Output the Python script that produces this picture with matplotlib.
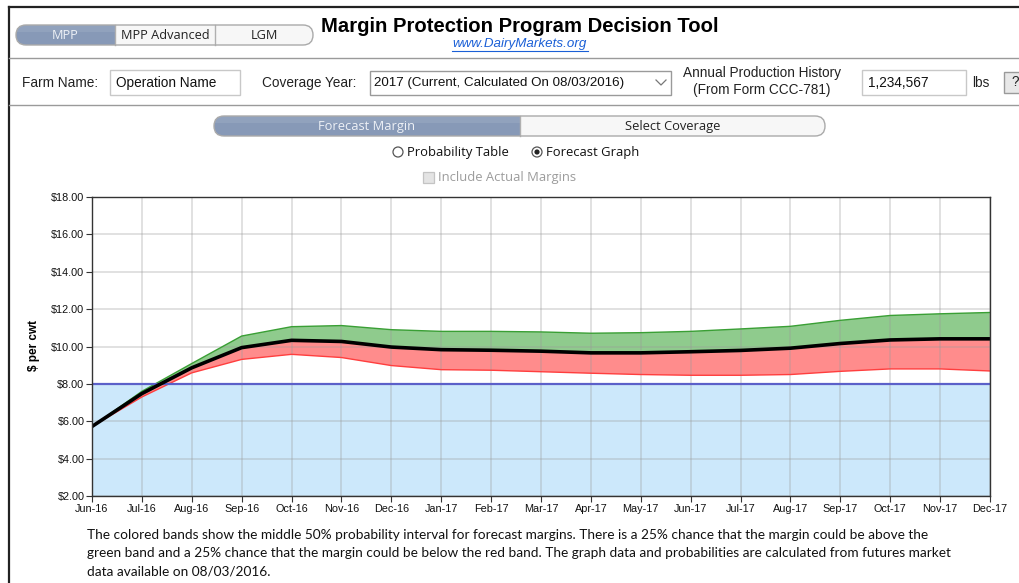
import matplotlib
matplotlib.use("Agg")
import matplotlib.pyplot as plt
from matplotlib.patches import FancyBboxPatch, Rectangle, Circle
from matplotlib.ticker import FuncFormatter
import numpy as np

# ---------------- data ----------------
months = ['Jun-16', 'Jul-16', 'Aug-16', 'Sep-16', 'Oct-16', 'Nov-16', 'Dec-16',
          'Jan-17', 'Feb-17', 'Mar-17', 'Apr-17', 'May-17', 'Jun-17', 'Jul-17',
          'Aug-17', 'Sep-17', 'Oct-17', 'Nov-17', 'Dec-17']
upper = [5.72, 7.60, 9.09, 10.56, 11.06, 11.12, 10.90, 10.81, 10.81, 10.78,
         10.71, 10.74, 10.81, 10.94, 11.08, 11.40, 11.66, 11.75, 11.82]
mean = [5.72, 7.48, 8.86, 9.94, 10.33, 10.27, 9.97, 9.83, 9.80, 9.75,
        9.66, 9.66, 9.72, 9.79, 9.91, 10.16, 10.35, 10.41, 10.41]
lower = [5.72, 7.30, 8.59, 9.31, 9.58, 9.41, 8.98, 8.76, 8.73, 8.65,
         8.57, 8.50, 8.46, 8.46, 8.50, 8.67, 8.80, 8.80, 8.69]
coverage_level = 8.0
y_ticks = [2, 4, 6, 8, 10, 12, 14, 16, 18]

footer_lines = [
    "The colored bands show the middle 50% probability interval for forecast margins. There is a 25% chance that the margin could be above the",
    "green band and a 25% chance that the margin could be below the red band. The graph data and probabilities are calculated from futures market",
    "data available on 08/03/2016.",
]

W, H = 1020, 583
fig = plt.figure(figsize=(W / 100, H / 100), dpi=100)
fig.patch.set_facecolor('white')

# overlay axes in pixel coordinates for the UI
ui = fig.add_axes([0, 0, 1, 1], zorder=0)
ui.set_xlim(0, W)
ui.set_ylim(H, 0)
ui.axis('off')

UI_FONT = ['Open Sans', 'DejaVu Sans']
ARIAL = ['Liberation Sans', 'DejaVu Sans']
BLUE_SEG = '#8799b7'

# window frame
ui.plot([9, 9], [7, H], color='#222222', lw=1.6)
ui.plot([9, W], [7, 7], color='#222222', lw=1.6)
ui.plot([9, W], [58, 58], color='#9a9a9a', lw=1.0)
ui.plot([9, W], [105, 105], color='#9a9a9a', lw=1.0)


def segmented(x0, x1, y0, y1, splits, active_end, labels, fontsize, textcolors):
    h = y1 - y0
    pill = FancyBboxPatch((x0, y0), x1 - x0, h,
                          boxstyle=f"round,pad=0,rounding_size={h/2}",
                          facecolor='#f7f7f7', edgecolor='none', zorder=2)
    ui.add_patch(pill)
    act = Rectangle((x0, y0), active_end - x0, h, facecolor=BLUE_SEG,
                    edgecolor='none', zorder=3)
    ui.add_patch(act)
    act.set_clip_path(pill)
    hl = Rectangle((x0, y0), active_end - x0, h * 0.35, facecolor='#91a2bd',
                   edgecolor='none', zorder=3)
    ui.add_patch(hl)
    hl.set_clip_path(pill)
    edge = FancyBboxPatch((x0, y0), x1 - x0, h,
                          boxstyle=f"round,pad=0,rounding_size={h/2}",
                          facecolor='none', edgecolor='#aaaaaa', lw=1.0, zorder=5)
    ui.add_patch(edge)
    for s in splits:
        ui.plot([s, s], [y0, y1], color='#b0b0b0', lw=1.0, zorder=4)
    bounds = [x0] + splits + [x1]
    for i, lab in enumerate(labels):
        cx = (bounds[i] + bounds[i + 1]) / 2
        ui.text(cx, (y0 + y1) / 2 + 0.5, lab, ha='center', va='center',
                fontsize=fontsize, family=UI_FONT, color=textcolors[i], zorder=6)


segmented(16, 313, 25, 45, [115, 215], 115, ['MPP', 'MPP Advanced', 'LGM'], 9.2,
          ['#eef1f6', '#222222', '#222222'])

ui.text(520, 27, 'Margin Protection Program Decision Tool', ha='center', va='center',
        fontsize=14.6, fontweight='bold', family=ARIAL, color='#000000')
ui.text(520, 44, 'www.DairyMarkets.org', ha='center', va='center', fontsize=9.6,
        style='italic', family=ARIAL, color='#1a5fd6')
ui.plot([452, 588], [50.5, 50.5], color='#1a5fd6', lw=0.8)

# row of inputs
ui.text(22, 83, 'Farm Name:', ha='left', va='center', fontsize=9.8, family=ARIAL, color='#222222')
ui.add_patch(Rectangle((110, 70), 130, 25, facecolor='white', edgecolor='#c8c8c8', lw=1.0))
ui.text(116, 83, 'Operation Name', ha='left', va='center', fontsize=9.8, family=ARIAL, color='#111111')
ui.text(262, 83, 'Coverage Year:', ha='left', va='center', fontsize=9.8, family=ARIAL, color='#222222')
ui.add_patch(Rectangle((370, 71), 301, 24, facecolor='white', edgecolor='#9a9a9a', lw=1.0))
ui.text(374, 83, '2017 (Current, Calculated On 08/03/2016)', ha='left', va='center',
        fontsize=9.6, family=ARIAL, color='#111111')
ui.plot([656, 661, 666], [80, 85, 80], color='#777777', lw=0.9)
ui.text(762, 73, 'Annual Production History', ha='center', va='center', fontsize=9.8,
        family=ARIAL, color='#222222')
ui.text(762, 90, '(From Form CCC-781)', ha='center', va='center', fontsize=9.8,
        family=ARIAL, color='#222222')
ui.add_patch(Rectangle((862, 70), 104, 25, facecolor='white', edgecolor='#c8c8c8', lw=1.0))
ui.text(868, 83, '1,234,567', ha='left', va='center', fontsize=9.8, family=ARIAL, color='#111111')
ui.text(972, 83, 'lbs', ha='left', va='center', fontsize=9.8, family=ARIAL, color='#222222')
ui.add_patch(Rectangle((1004, 72), 22, 21, facecolor='#e8e8e8', edgecolor='#9a9a9a', lw=1.0))
ui.text(1011, 82.5, '?', ha='left', va='center', fontsize=9.8, family=ARIAL, color='#222222')

# forecast / coverage switch
segmented(214, 825, 116, 136, [520], 520, ['Forecast Margin', 'Select Coverage'], 9.3,
          ['#eef1f6', '#222222'])

# radio buttons
ui.add_patch(Circle((398, 152), 5, facecolor='white', edgecolor='#555555', lw=0.9))
ui.text(407, 152.5, 'Probability Table', ha='left', va='center', fontsize=9.4,
        family=UI_FONT, color='#111111')
ui.add_patch(Circle((537, 152), 5, facecolor='white', edgecolor='#555555', lw=0.9))
ui.add_patch(Circle((537, 152), 2.6, facecolor='#222222', edgecolor='none'))
ui.text(546, 152.5, 'Forecast Graph', ha='left', va='center', fontsize=9.4,
        family=UI_FONT, color='#111111')

# disabled checkbox
ui.add_patch(Rectangle((423, 172), 11, 11, facecolor='#e4e4e4', edgecolor='#c4c4c4', lw=0.9))
ui.text(438, 178, 'Include Actual Margins', ha='left', va='center', fontsize=9.4,
        family=UI_FONT, color='#9c9c9c')

# footer
for i, line in enumerate(footer_lines):
    ui.text(87, 535 + i * 18, line, ha='left', va='center', fontsize=9.8,
            family=['Lato', 'DejaVu Sans'], color='#111111')

# ---------------- chart ----------------
ax_l, ax_r, ax_t, ax_b = 92, 990, 197, 496
ax = fig.add_axes([ax_l / W, 1 - ax_b / H, (ax_r - ax_l) / W, (ax_b - ax_t) / H], zorder=2)
ax.set_facecolor('white')
x = np.arange(len(months))

ax.axhspan(2, coverage_level, facecolor='#cce8fb', edgecolor='none', zorder=1)
ax.axhline(coverage_level, color='#5b60c9', lw=1.6, zorder=4)
ax.fill_between(x, mean, upper, facecolor='#8fcb8d', edgecolor='none', zorder=2)
ax.fill_between(x, lower, mean, facecolor='#ff8c8c', edgecolor='none', zorder=2)
ax.plot(x, upper, color='#3a9f35', lw=1.0, zorder=3)
ax.plot(x, lower, color='#ff3e3e', lw=1.0, zorder=3)
ax.plot(x, mean, color='#000000', lw=2.6, zorder=5, solid_capstyle='round')

ax.set_xlim(0, len(months) - 1)
ax.set_ylim(2, 18)
ax.set_xticks(x)
ax.set_xticklabels(months)
ax.set_yticks(y_ticks)
ax.yaxis.set_major_formatter(FuncFormatter(lambda v, p: f'${v:.2f}'))
ax.grid(True, color='#9a9a9a', alpha=0.35, lw=1.2, zorder=6)
ax.set_axisbelow(False)
for sp in ax.spines.values():
    sp.set_color('#333333')
    sp.set_linewidth(1.0)
    sp.set_zorder(7)
ax.tick_params(axis='both', direction='out', length=4, width=0.8, color='#333333',
               labelsize=7.8, labelcolor='#111111', pad=1.5)
for lab in ax.get_xticklabels() + ax.get_yticklabels():
    lab.set_family(ARIAL)
ax.set_ylabel('$ per cwt', fontsize=8.5, fontweight='bold', family=ARIAL)
ax.yaxis.set_label_coords((40 - ax_l) / (ax_r - ax_l), 0.505)

fig.savefig('out.png', dpi=100, facecolor='white')
